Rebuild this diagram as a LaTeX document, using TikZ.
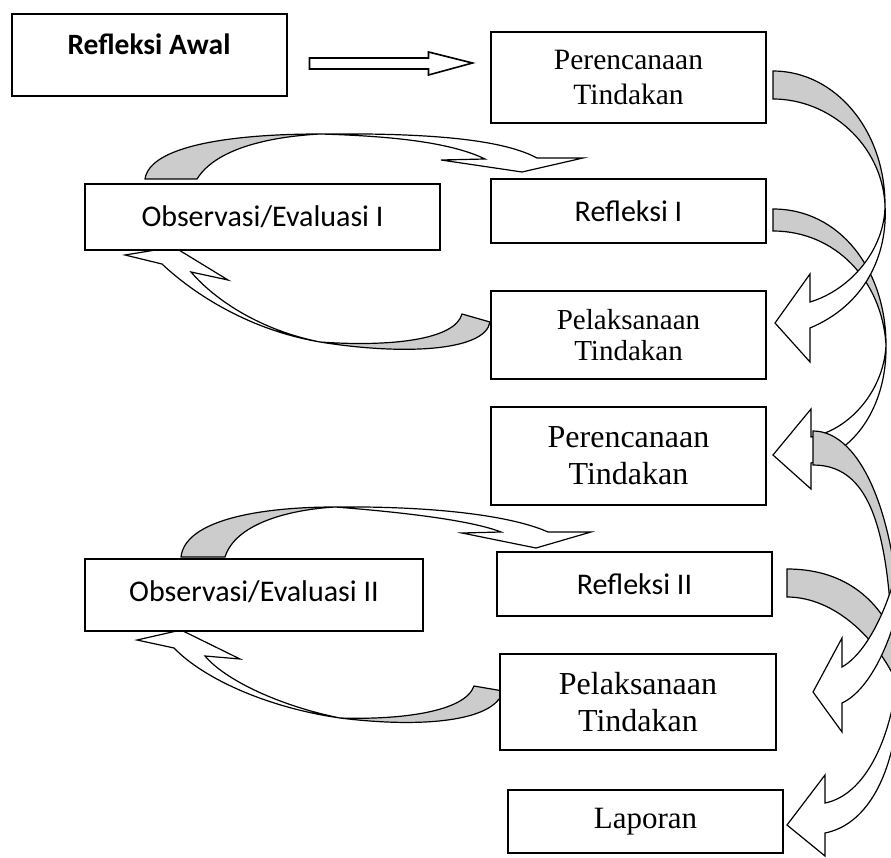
\documentclass[tikz,border=0pt]{standalone}
\usepackage{fontspec}
\setmainfont{Liberation Serif}
\newfontfamily\calibri{Carlito}
\usepackage{tikz}
\usetikzlibrary{positioning}

\begin{document}
\begin{tikzpicture}[
    x = 1pt, y = -1pt,% y runs downwards
    node distance = 0pt and 0pt,% for distance between nodes
       box/.style = {draw, line width=2pt, fill=white, minimum width=275pt,
                     outer sep=0pt, inner sep=0pt, align=center},% nodes style
      sans/.style = {font=\calibri\fontsize{30}{35}\selectfont},
      back/.style = {draw, line width=1.2pt, fill=black!20},% grey back of a curved arrow
     front/.style = {draw, line width=1.2pt, fill=white}% white front of a curved arrow
    ]
    \clip (0,0) rectangle (891,858);
    % curved arrows on the right
    \draw[back]  (773,209) .. controls (840,209) and (886,270) .. (886,345)
                 .. controls (882,280) and (835,231) .. (773,231) -- cycle;
    \draw[front] (886,345) .. controls (887,400) and (860,450) .. (811,463)
                 -- (811,489) -- (773,455) -- (811,409) -- (811,437)
                 .. controls (850,430) and (884,390) .. (886,345) -- cycle;
    \draw[back]  (773,71) .. controls (835,71) and (885,130) .. (885,205)
                 .. controls (882,145) and (830,99) .. (773,99) -- cycle;
    \draw[front] (885,205) .. controls (888,255) and (865,305) .. (810,328)
                 -- (810,362) -- (775,323) -- (810,274) -- (810,302)
                 .. controls (850,290) and (885,250) .. (885,205) -- cycle;
    \draw[back]  (813,431) .. controls (862,431) and (898,520) .. (900,640)
                 -- (905,640) -- (905,720) -- (893,720)
                 .. controls (895,540) and (875,465) .. (813,465) -- cycle;
    \draw[back]  (787,569) .. controls (840,569) and (880,595) .. (900,650)
                 -- (900,690) .. controls (880,640) and (835,597) .. (787,597) -- cycle;
    \draw[front] (825,803) -- (825,775) -- (787,825) -- (825,856) -- (825,833)
                 .. controls (865,825) and (890,780) .. (897,720) -- (897,680)
                 .. controls (890,740) and (865,795) .. (825,803) -- cycle;
    \draw[front] (842,667) -- (842,638) -- (813,692) -- (842,732) -- (842,703)
                 .. controls (870,690) and (893,640) .. (902,590) -- (902,545)
                 .. controls (895,590) and (872,650) .. (842,667) -- cycle;
    % curved arrows on the left, cycle I
    \draw[back]  (145,179) .. controls (150,145) and (235,134) .. (320,134)
                 .. controls (265,137) and (215,150) .. (197,179) -- cycle;
    \draw[front] (320,134) .. controls (420,133) and (500,138) .. (537,158)
                 -- (583,158) -- (522,172) -- (441,160) -- (485,159)
                 .. controls (450,142) and (390,136) .. (320,134) -- cycle;
    \draw[back]  (462,314) .. controls (455,340) and (390,347) .. (320,342)
                 .. controls (400,355) and (485,352) .. (490,322) -- cycle;
    \draw[front] (320,342) .. controls (250,330) and (195,295) .. (162,264)
                 -- (125,255) -- (174,247) -- (228,280) -- (191,272)
                 .. controls (215,300) and (260,330) .. (320,342) -- cycle;
    % curved arrows on the left, cycle II
    \draw[back]  (181,557) .. controls (185,520) and (260,507) .. (335,507)
                 .. controls (285,510) and (235,525) .. (225,557) -- cycle;
    \draw[front] (335,507) .. controls (430,506) and (510,515) .. (548,532)
                 -- (591,532) -- (536,548) -- (462,533) -- (501,532)
                 .. controls (470,520) and (400,512) .. (335,507) -- cycle;
    \draw[back]  (474,686) .. controls (465,712) and (400,720) .. (340,718)
                 .. controls (420,728) and (495,722) .. (503,691) -- cycle;
    \draw[front] (340,718) .. controls (270,708) and (205,680) .. (174,648)
                 -- (137,640) -- (181,630) -- (240,659) -- (205,656)
                 .. controls (225,680) and (280,706) .. (340,718) -- cycle;
    % boxes
    \node (awal) [box, minimum height=82pt, font=\calibri\bfseries\fontsize{29.5}{35}\selectfont]
        at (149,55) {\raisebox{22pt}{Refleksi Awal}};
    \node (pr1) [box, minimum height=91pt, font=\fontsize{29.5}{35}\selectfont]
        at (628.5,77.5) {Perencanaan\\Tindakan};
    \node (ref1) [box, sans, minimum height=64pt, below=56pt of pr1] {Refleksi I};
    \node (pl1) [box, minimum height=88pt, font=\fontsize{29}{31}\selectfont,
        below=48pt of ref1] {Pelaksanaan\\Tindakan};
    \node (pr2) [box, minimum height=98pt, font=\fontsize{32}{37}\selectfont,
        below=28pt of pl1] {Perencanaan\\Tindakan};
    \node (ref2) [box, sans, minimum height=64pt, below=47pt of pr2, xshift=6pt] {Refleksi II};
    \node (pl2) [box, minimum width=276pt, minimum height=96pt, font=\fontsize{32}{37}\selectfont,
        below=38pt of ref2, xshift=3.5pt] {Pelaksanaan\\Tindakan};
    \node (lap) [box, minimum height=63pt, font=\fontsize{31}{36}\selectfont,
        below=40pt of pl2, xshift=7.5pt] {Laporan};
    \node (obs1) [box, sans, minimum width=355pt, minimum height=66pt]
        at (262.5,217) {Observasi/Evaluasi I};
    \node (obs2) [box, sans, minimum width=338pt, minimum height=72pt]
        at (254,595) {\raisebox{8pt}{Observasi/Evaluasi II}};
    % open arrow from the first box
    \draw[front, line width=1.6pt] ([xshift=23pt, yshift=-3pt]awal.east) -- ++(119,0)
        -- ++(0,-6) -- ++(44,11) -- ++(-44,12) -- ++(0,-6) -- ++(-119,0) -- cycle;
\end{tikzpicture}
\end{document}
